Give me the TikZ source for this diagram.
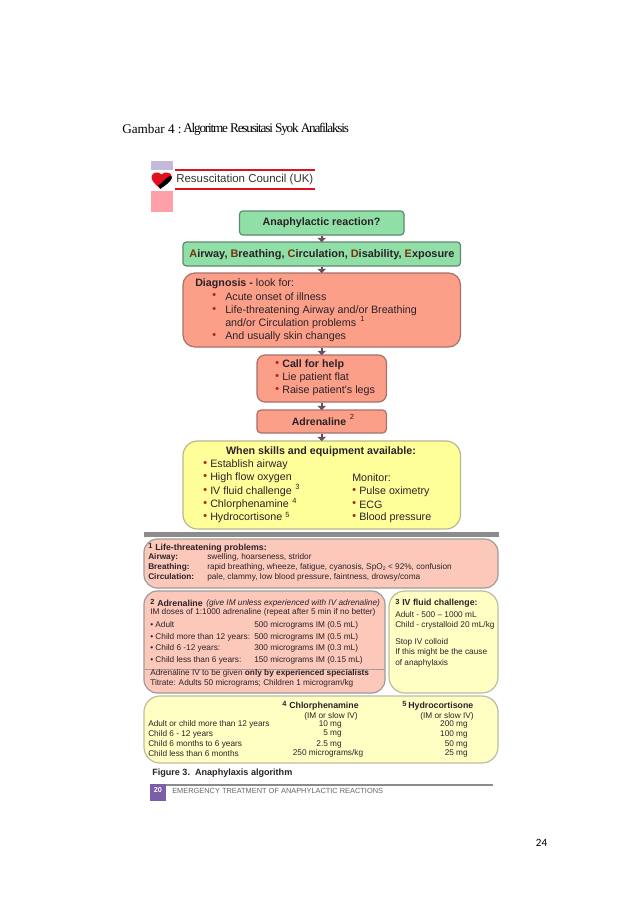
\documentclass[tikz,border=0pt]{standalone}
\usepackage{fontspec}
\setmainfont{Liberation Sans}
\newfontfamily\titlefont{Liberation Serif}
\newfontfamily\titletight[LetterSpace=-9]{Liberation Serif}
\newfontfamily\pagefont{Carlito}
\usetikzlibrary{fit,arrows.meta}
\definecolor{inkc}{HTML}{2A2228}
\definecolor{greenf}{HTML}{8FDFA6}
\definecolor{greene}{HTML}{5E8A70}
\definecolor{salmonf}{HTML}{FB9F88}
\definecolor{salmone}{HTML}{A8706A}
\definecolor{yellowf}{HTML}{FFFF99}
\definecolor{yellowe}{HTML}{B8B890}
\definecolor{pinkf}{HTML}{FCC8BA}
\definecolor{pinke}{HTML}{A09A98}
\definecolor{paley}{HTML}{FFFFC4}
\definecolor{palee}{HTML}{BDBDA0}
\definecolor{arrowc}{HTML}{6A4E5E}
\definecolor{bulletc}{HTML}{B02818}
\definecolor{brownc}{HTML}{7A3010}
\definecolor{lavlogo}{HTML}{C4BAD8}
\definecolor{pinklogo}{HTML}{FFA0A8}
\definecolor{redlogo}{HTML}{E0101C}
\definecolor{barc}{HTML}{8C8C8C}
\definecolor{purplec}{HTML}{7B5EA8}
\definecolor{footc}{HTML}{666666}
\tikzset{
  x=0.75pt,y=-0.75pt,
  boxbase/.style={inner sep=0pt,line width=0.9pt,rounded corners=#1},
  green box/.style={boxbase=2.5pt,draw=greene,fill=greenf},
  salmon box/.style={boxbase=9pt,draw=salmone,fill=salmonf},
  call box/.style={boxbase=6pt,draw=salmone,fill=salmonf},
  adr box/.style={boxbase=3pt,draw=salmone,fill=salmonf},
  yellow box/.style={boxbase=11pt,draw=yellowe,fill=yellowf},
  pink box/.style={boxbase=10pt,draw=pinke,fill=pinkf},
  pale box/.style={boxbase=12pt,draw=palee,fill=paley},
  flow/.style={draw=arrowc,line width=1.4pt,-{Triangle[length=3.2pt,width=6.5pt]},shorten >=-0.5pt},
  txt/.style={inner sep=0pt,anchor=west,text=inkc,font=\fontsize{8.03}{10}\selectfont},
  big/.style={txt,font=\fontsize{8.03}{10}\selectfont\bfseries},
  mid/.style={txt,font=\fontsize{6.2}{8}\selectfont},
  midb/.style={txt,font=\fontsize{6.2}{8}\selectfont\bfseries},
  midi/.style={txt,font=\fontsize{6.2}{8}\selectfont\itshape},
  head/.style={txt,font=\fontsize{6.6}{8}\selectfont\bfseries},
  num/.style={txt,font=\fontsize{5.6}{7}\selectfont},
  numb/.style={txt,font=\fontsize{5.6}{7}\selectfont\bfseries},
  dot/.style={txt,text=bulletc,font=\fontsize{8}{10}\selectfont\bfseries},
  midr/.style={mid,anchor=east},
  midc/.style={mid,anchor=center},
}
\newcommand\bx[6]{\node[#2,fit={(#3,#4)(#5,#6)}] (#1) {};}
\newcommand\tx[5]{\node[#2] (#1) at (#3,#4) {#5};}
\newcommand\cl[1]{\textcolor{brownc}{#1}}
\begin{document}
\begin{tikzpicture}
\useasboundingbox (0,0) rectangle (638,903);
\fill[white] (0,0) rectangle (638,903);
% title
\node[inner sep=0pt,anchor=west,font=\fontsize{9.9}{12}\selectfont\titlefont] (tA) at (122,129) {Gambar 4 :};
\node[inner sep=0pt,anchor=west,font=\fontsize{9.9}{12}\selectfont\titletight] (tB) at (183,129) {Algoritme Resusitasi Syok Anafilaksis};
\node[inner sep=0pt,font=\fontsize{8.3}{10}\selectfont\pagefont] (pg) at (541.5,843) {24};
% logo
\fill[lavlogo] (151,161) rectangle (173,170);
\fill[pinklogo] (151,191) rectangle (173,212);
\fill[redlogo] (175,169.2) rectangle (315,171);
\fill[redlogo] (175,188) rectangle (315,190);
\fill[redlogo] (160,188.5) .. controls (155,184) and (151.5,181) .. (151.5,177) .. controls (151.5,172) and (159,171) .. (161.5,174.5) .. controls (164,171) and (172,172) .. (172,177) .. controls (172,181) and (165,184) .. (160,188.5) -- cycle;
\fill[black] (158,186) -- (168.5,176.5) .. controls (170.5,175.5) and (172,176) .. (171.8,178) .. controls (171,181.5) and (166,185) .. (160.5,188.8) -- cycle;
\tx{logot}{txt,font=\fontsize{8.6}{10}\selectfont,text=black!80}{176}{180}{Resuscitation Council (UK)}
% main boxes
\bx{anaph}{green box}{239.5}{211}{404}{235}
\bx{abcde}{green box}{183}{242}{460.5}{266}
\bx{diag}{salmon box}{183}{273}{460.5}{347}
\bx{call}{call box}{257}{355}{386.5}{402}
\bx{adr}{adr box}{257}{410}{386.5}{433}
\bx{skills}{yellow box}{183}{441}{460.5}{529}
% connectors
\draw[flow] (anaph.south) -- (abcde.north);
\draw[flow] (abcde.south) -- (diag.north);
\draw[flow] (diag.south) -- (call.north);
\draw[flow] (call.south) -- (adr.north);
\draw[flow] (adr.south) -- (skills.north);
% grey bar
\fill[barc] (144,532) rectangle (499,537);
% lower boxes
\bx{b1}{pink box}{144}{539}{498}{588}
\bx{b2}{pink box}{144}{591}{385}{693}
\bx{b3}{pale box}{389}{591}{498}{693}
\bx{b4}{pale box}{144}{696}{498}{763}
\coordinate (dl) at (144.5,669);
\coordinate (dr) at (385,669);
\draw[draw=pinke,line width=0.7pt] (dl) -- (dr);
% flow texts
\tx{t1}{big,anchor=center}{321.5}{222.5}{Anaphylactic reaction?}
\tx{t2}{big,anchor=center,font=\fontsize{8.2}{11}\selectfont\bfseries}{322}{254.5}{\cl{A}irway, \cl{B}reathing, \cl{C}irculation, \cl{D}isability, \cl{E}xposure}
\tx{d0}{txt}{195}{284}{\textbf{Diagnosis -} look for:}
\tx{d1b}{dot}{212}{296}{•}
\tx{d1}{txt}{225}{297}{Acute onset of illness}
\tx{d2b}{dot}{212}{310}{•}
\tx{d2}{txt}{225}{311}{Life-threatening Airway and/or Breathing}
\tx{d3}{txt}{225}{324}{and/or Circulation problems}
\tx{d3s}{num}{360}{319}{1}
\tx{d4b}{dot}{212}{336}{•}
\tx{d4}{txt}{225}{337}{And usually skin changes}
\tx{c1b}{dot}{275}{364}{•}
\tx{c1}{big}{282}{365}{Call for help}
\tx{c2b}{dot}{275}{377}{•}
\tx{c2}{txt}{282}{378}{Lie patient flat}
\tx{c3b}{dot}{275}{390}{•}
\tx{c3}{txt}{282}{391}{Raise patient’s legs}
\tx{a1}{big,anchor=center,font=\fontsize{7.9}{10}\selectfont\bfseries}{319}{421.5}{Adrenaline}
\tx{a1s}{num}{349.5}{417}{2}
\tx{s0}{big,anchor=center}{321}{452}{When skills and equipment available:}
\tx{s1b}{dot}{203}{464}{•}
\tx{s1}{txt}{210}{465}{Establish airway}
\tx{s2b}{dot}{203}{477}{•}
\tx{s2}{txt}{210}{478}{High flow oxygen}
\tx{s3b}{dot}{203}{491}{•}
\tx{s3}{txt}{210}{492}{IV fluid challenge}
\tx{s3s}{num}{295}{487}{3}
\tx{s4b}{dot}{203}{504}{•}
\tx{s4}{txt}{210}{505}{Chlorphenamine}
\tx{s4s}{num}{292}{501}{4}
\tx{s5b}{dot}{203}{517}{•}
\tx{s5}{txt}{210}{518}{Hydrocortisone}
\tx{s5s}{num}{285}{515}{5}
\tx{m0}{txt}{352}{478}{Monitor:}
\tx{m1b}{dot}{352}{491}{•}
\tx{m1}{txt}{359}{492}{Pulse oximetry}
\tx{m2b}{dot}{352}{504}{•}
\tx{m2}{txt}{359}{505}{ECG}
\tx{m3b}{dot}{352}{517}{•}
\tx{m3}{txt}{359}{518}{Blood pressure}
% box 1
\tx{n1}{numb}{148}{546}{1}
\tx{h1}{head}{155}{548}{Life-threatening problems:}
\tx{p1}{midb}{148}{557.5}{Airway:}
\tx{v1}{mid}{207}{557.5}{swelling, hoarseness, stridor}
\tx{p2}{midb}{148}{567.5}{Breathing:}
\tx{v2}{mid}{207}{567.5}{rapid breathing, wheeze, fatigue, cyanosis, SpO\raisebox{-1pt}{\fontsize{4}{4}\selectfont 2} < 92\%, confusion}
\tx{p3}{midb}{148}{577}{Circulation:}
\tx{v3}{mid}{207}{577}{pale, clammy, low blood pressure, faintness, drowsy/coma}
% box 2
\tx{n2}{numb}{150}{601.5}{2}
\tx{h2}{head}{157}{603}{Adrenaline}
\tx{h2i}{midi}{206}{603}{(give IM unless experienced with IV adrenaline)}
\tx{r0}{mid}{150}{612.5}{IM doses of 1:1000 adrenaline (repeat after 5 min if no better)}
\tx{r1}{mid}{150}{625}{• Adult}
\tx{r1v}{mid}{254}{625}{500 micrograms IM (0.5 mL)}
\tx{r2}{mid}{150}{637}{• Child more than 12 years:}
\tx{r2v}{mid}{254}{637}{500 micrograms IM (0.5 mL)}
\tx{r3}{mid}{150}{648.5}{• Child 6 -12 years:}
\tx{r3v}{mid}{254}{648.5}{300 micrograms IM (0.3 mL)}
\tx{r4}{mid}{150}{660.5}{• Child less than 6 years:}
\tx{r4v}{mid}{254}{660.5}{150 micrograms IM (0.15 mL)}
\tx{r5}{mid}{150}{673.5}{Adrenaline IV to be given \textbf{only by experienced specialists}}
\tx{r6}{mid}{150}{683.5}{Titrate: Adults 50 micrograms; Children 1 microgram/kg}
% box 3
\tx{n3}{numb}{395}{601.5}{3}
\tx{h3}{head}{402}{603}{IV fluid challenge:}
\tx{f1}{mid}{395}{615}{Adult - 500 – 1000 mL}
\tx{f2}{mid}{395}{625}{Child - crystalloid 20 mL/kg}
\tx{f3}{mid}{395}{642}{Stop IV colloid}
\tx{f4}{mid}{395}{652.5}{If this might be the cause}
\tx{f5}{mid}{395}{663}{of anaphylaxis}
% box 4
\tx{n4}{numb}{282}{704}{4}
\tx{h4}{head}{289}{706}{Chlorphenamine}
\tx{h4b}{midc}{331}{716}{(IM or slow IV)}
\tx{n5}{numb}{402}{704}{5}
\tx{h5}{head}{408}{706}{Hydrocortisone}
\tx{h5b}{midc}{447}{716}{(IM or slow IV)}
\tx{k1}{mid}{148}{724.5}{Adult or child more than 12 years}
\tx{k1a}{midr}{342}{724.5}{10 mg}
\tx{k1b}{midr}{468}{724.5}{200 mg}
\tx{k2}{mid}{148}{734}{Child 6 - 12 years}
\tx{k2a}{midr}{342}{734}{5 mg}
\tx{k2b}{midr}{468}{734}{100 mg}
\tx{k3}{mid}{148}{744}{Child 6 months to 6 years}
\tx{k3a}{midr}{342}{744}{2.5 mg}
\tx{k3b}{midr}{468}{744}{50 mg}
\tx{k4}{mid}{148}{753.5}{Child less than 6 months}
\tx{k4a}{midc}{328}{753.5}{250 micrograms/kg}
\tx{k4b}{midr}{468}{753.5}{25 mg}
% footer
\tx{fig}{head,font=\fontsize{6.8}{8}\selectfont\bfseries}{152}{773}{Figure 3.\ \ Anaphylaxis algorithm}
\fill[barc] (166,784) rectangle (493,785.8);
\fill[purplec] (150,784) rectangle (166,801);
\tx{pn}{txt,text=white,font=\fontsize{5.4}{7}\selectfont\bfseries}{153.5}{790.5}{20}
\tx{ft}{txt,text=footc,font=\fontsize{5.55}{7}\selectfont}{172}{790.5}{EMERGENCY TREATMENT OF ANAPHYLACTIC REACTIONS}
\end{tikzpicture}
\end{document}
